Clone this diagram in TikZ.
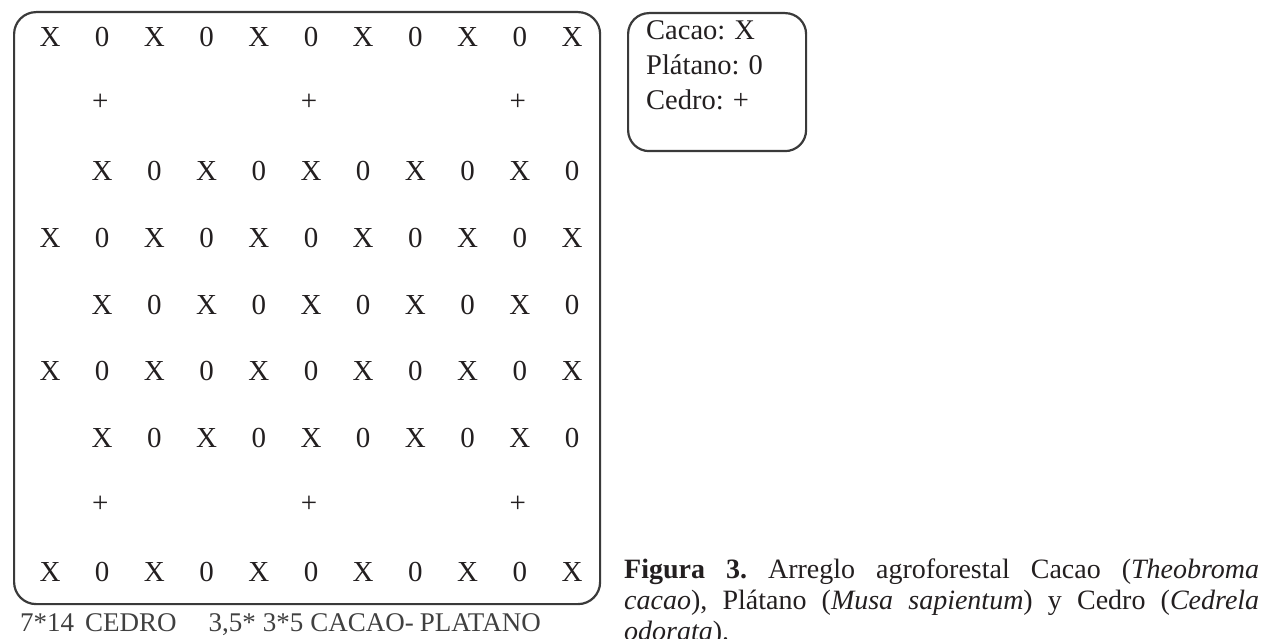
\documentclass[tikz,border=0pt]{standalone}
\usepackage{fontspec}
\setmainfont{Liberation Serif}
\frenchspacing
\definecolor{ink}{HTML}{231F20}
\definecolor{frame}{HTML}{3A3A3A}
\definecolor{soft}{HTML}{404040}
\begin{document}
\begin{tikzpicture}[x=1pt,y=-1pt,
  boxframe/.style={draw=frame,line width=2.2pt,rounded corners=22pt},
  cell/.style={inner sep=0pt,anchor=base,text=ink,font=\fontsize{29}{31}\selectfont},
  legtxt/.style={inner sep=0pt,anchor=base west,text=ink,font=\fontsize{28.5}{35}\selectfont},
  captxt/.style={inner sep=0pt,anchor=base west,text=ink,text width=635pt,align=justify,font=\fontsize{28}{31}\selectfont},
  foot/.style={inner sep=0pt,anchor=base west,text=soft,font=\fontsize{27}{31}\selectfont}]
\useasboundingbox (0,0) rectangle (1269,639);
% main plot frame
\node[boxframe,inner sep=0pt,minimum width=586pt,minimum height=592pt,anchor=north west] (plot) at (13,11) {};
% legend frame
\node[boxframe,rounded corners=21pt,inner sep=0pt,minimum width=178pt,minimum height=138pt,anchor=north west] (legend) at (627,12) {};
% full rows: X 0 X 0 ... X
\foreach \r/\y in {0/37,3/238,5/371,8/572}{
  \foreach \c in {0,...,10}{
    \pgfmathsetmacro{\xx}{50+52.2*\c}
    \pgfmathparse{int(mod(\c,2))}
    \ifnum\pgfmathresult=0
      \node[cell] (g-\r-\c) at (\xx,\y+9.5) {X};
    \else
      \node[cell] (g-\r-\c) at (\xx,\y+9.5) {0};
    \fi
  }
}
% indented rows: X 0 ... X 0
\foreach \r/\y in {2/171,4/305,6/438}{
  \foreach \c in {1,...,10}{
    \pgfmathsetmacro{\xx}{50+52.2*\c}
    \pgfmathparse{int(mod(\c,2))}
    \ifnum\pgfmathresult=1
      \node[cell] (g-\r-\c) at (\xx,\y+9.5) {X};
    \else
      \node[cell] (g-\r-\c) at (\xx,\y+9.5) {0};
    \fi
  }
}
% cedro rows
\foreach \r/\y in {1/104,7/505}{
  \foreach \c in {1,5,9}{
    \pgfmathsetmacro{\xx}{48+52.2*\c}
    \node[cell] (g-\r-\c) at (\xx,\y+7) {+};
  }
}
% legend text
\node[legtxt] (l1) at (646,40) {Cacao:\hspace{9pt}X};
\node[legtxt] (l2) at (646,75) {Plátano:\hspace{9pt}0};
\node[legtxt] (l3) at (646,110) {Cedro:\hspace{9pt}+};
% footer
\node[foot] (foot) at (20,631) {7*14\hspace{11pt}CEDRO\hspace{32pt}3,5*\hspace{7pt}3*5\hspace{7pt}CACAO-\hspace{6pt}PLATANO};
% caption
\node[captxt] (cap) at (624,578) {\textbf{Figura 3.} Arreglo agroforestal Cacao (\textit{Theobroma}\linebreak \textit{cacao}), Plátano (\textit{Musa sapientum}) y Cedro (\textit{Cedrela}\linebreak \textit{odorata}).};
\end{tikzpicture}
\end{document}
